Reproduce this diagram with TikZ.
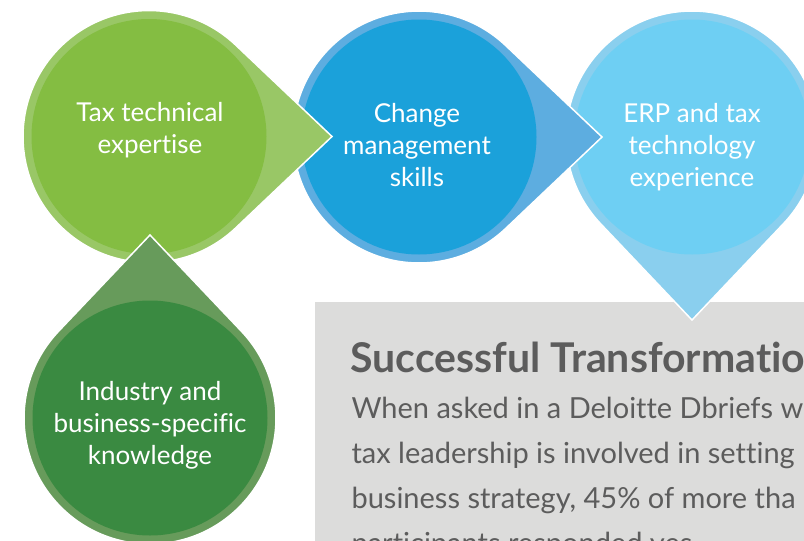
\documentclass[tikz,border=0pt]{standalone}
\usepackage{fontspec}
\setmainfont{Lato}[Ligatures=NoCommon]
\usetikzlibrary{calc}

\definecolor{taxOut}{HTML}{99C766}
\definecolor{taxIn}{HTML}{84BD42}
\definecolor{chgOut}{HTML}{5DADE0}
\definecolor{chgIn}{HTML}{1BA1DA}
\definecolor{erpOut}{HTML}{8ACFEE}
\definecolor{erpIn}{HTML}{6ECFF3}
\definecolor{indOut}{HTML}{679B5B}
\definecolor{indIn}{HTML}{3A8A41}
\definecolor{boxGrey}{HTML}{DCDCDB}
\definecolor{txtGrey}{HTML}{5C5C5C}

% teardrop: centre, direction of the tip, ring colour, disc colour
\newcommand{\drop}[4]{
  \fill[#3, draw=white, line width=1.5] (#1) ++(#2+46.5:126)
    arc[start angle=#2+46.5, end angle=#2+313.5, radius=126]
    -- ($(#1)+(#2:183)$) -- cycle;
  \fill[#4] (#1) circle[radius=117.5];
}

\tikzset{
  skill/.style={text=white, align=center, font=\fontsize{26}{32}\selectfont},
  title/.style={text=txtGrey, anchor=base west, font=\fontsize{41}{48}\selectfont\bfseries},
  body/.style={text=txtGrey, anchor=base west, font=\fontsize{29}{45}\selectfont}
}

\begin{document}
\begin{tikzpicture}[x=1pt, y=-1pt]
  \useasboundingbox (0,0) rectangle (804,541);
  \clip (0,0) rectangle (804,541);

  \coordinate (tax) at (149,136.5);
  \coordinate (chg) at (419,137);
  \coordinate (erp) at (692,137);
  \coordinate (ind) at (150,418);

  \fill[boxGrey] (315,302) rectangle (804,541);

  \drop{erp}{90}{erpOut}{erpIn}
  \drop{chg}{0}{chgOut}{chgIn}
  \drop{tax}{0}{taxOut}{taxIn}
  \drop{ind}{270}{indOut}{indIn}

  \node[skill] (taxtext) at (150,130) {Tax technical\\expertise};
  \node[skill] (chgtext) at (417,145) {Change\\management\\skills};
  \node[skill] (erptext) at (692,147) {ERP and tax\\technology\\experience};
  \node[skill] (indtext) at (150,425) {Industry and\\business-specific\\knowledge};

  \node[title] (head) at (347,372) {Successful Transformation};
  \node[body] (line1) at (348,418) {When asked in a Deloitte Dbriefs w};
  \node[body] (line2) at (348,463) {tax leadership is involved in setting};
  \node[body] (line3) at (348,508) {business strategy, 45\% of more tha};
  \node[body] (line4) at (348,553) {participants responded yes};
\end{tikzpicture}
\end{document}
